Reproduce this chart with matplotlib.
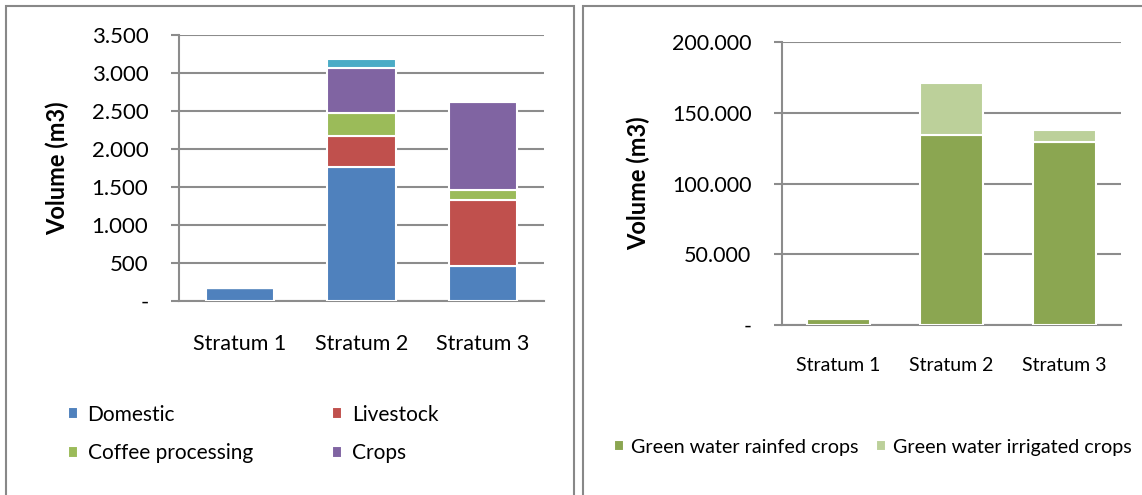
import numpy as np
import matplotlib
matplotlib.use('Agg')
import matplotlib.pyplot as plt
from matplotlib.patches import Rectangle
from matplotlib.ticker import FuncFormatter, MultipleLocator

plt.rcParams['font.family'] = ['Lato', 'DejaVu Sans']

# data
strata = ['Stratum 1', 'Stratum 2', 'Stratum 3']

domestic = [167, 1760, 465]
livestock = [0, 411, 860]
coffee = [0, 299, 132]
crops = [0, 596, 1165]
other = [0, 118, 0]  # cyan segment, not in the legend

rainfed = [4000, 134400, 129300]
irrigated = [1900, 36600, 8500]

left_colors = ['#4F81BD', '#C0504D', '#9BBB59', '#8064A2', '#4BACC6']
right_colors = ['#8BA651', '#BCD09A']
grid_col = '#8C8C8C'

W, H = 1142, 495
fig = plt.figure(figsize=(W / 100, H / 100), dpi=100)


def px_axes(x0, y0, x1, y1):
    # pixel box (top-left origin) -> figure axes
    return fig.add_axes([x0 / W, 1 - y1 / H, (x1 - x0) / W, (y1 - y0) / H])


def thousands(v, pos):
    if v == 0:
        return '-'
    return f'{int(v):,}'.replace(',', '.')


def style(ax, ymax, step, label_x, ysize, xsize, xpad):
    ax.set_ylim(0, ymax)
    ax.set_xlim(-0.5, 2.5)
    ax.yaxis.set_major_locator(MultipleLocator(step))
    ax.yaxis.set_major_formatter(FuncFormatter(thousands))
    ax.grid(axis='y', color=grid_col, lw=1.5, zorder=0)
    ax.set_axisbelow(True)
    for s in ['top', 'right']:
        ax.spines[s].set_visible(False)
    for s in ['left', 'bottom']:
        ax.spines[s].set_color(grid_col)
        ax.spines[s].set_linewidth(1.5)
    ax.tick_params(axis='y', length=6, width=1.5, color=grid_col, pad=16,
                   labelsize=ysize, labelcolor='#000000')
    ax.tick_params(axis='x', length=0, pad=xpad, labelsize=xsize)
    ax.set_ylabel('Volume (m3)', fontsize=17, fontweight='bold')
    ax.yaxis.set_label_coords(label_x, 0.5)


# panel frames
fig.patches.append(Rectangle((6 / W, -0.1), (574 - 6) / W, 1.1 - 6 / H,
                             transform=fig.transFigure, fill=False,
                             edgecolor='#888888', lw=1.5))
fig.patches.append(Rectangle((583 / W, -0.1), 0.5, 1.1 - 6 / H,
                             transform=fig.transFigure, fill=False,
                             edgecolor='#888888', lw=1.5))

# left chart
ax1 = px_axes(179, 35, 544, 301)
x = np.arange(len(strata))
bottom = np.zeros(3)
names = ['Domestic', 'Livestock', 'Coffee processing', 'Crops', None]
handles = {}
for vals, name, col in zip([domestic, livestock, coffee, crops, other], names, left_colors):
    b = ax1.bar(x, vals, 0.56, bottom=bottom, color=col, edgecolor='white',
                lw=1.5, zorder=3, label=name if name else '_nolegend_')
    if name:
        handles[name] = b
    bottom += np.array(vals)
ax1.set_xticks(x, strata)
style(ax1, 3500, 500, -0.30, 16, 15.5, 24)

order = ['Domestic', 'Coffee processing', 'Livestock', 'Crops']
fig.legend([handles[n] for n in order], order, ncol=2, loc='center left',
           bbox_to_anchor=(49 / W, 1 - 434 / H), frameon=False, fontsize=15,
           handlelength=0.5, handleheight=0.5, handletextpad=0.45,
           columnspacing=3.8, labelspacing=0.9)

# right chart
ax2 = px_axes(782, 42, 1121, 325)
x2 = np.arange(len(strata))
b1 = ax2.bar(x2, rainfed, 0.56, color=right_colors[0], edgecolor='white', lw=1.5,
             zorder=3, label='Green water rainfed crops')
b2 = ax2.bar(x2, irrigated, 0.56, bottom=rainfed, color=right_colors[1],
             edgecolor='white', lw=1.5, zorder=3, label='Green water irrigated crops')
ax2.set_xticks(x2, strata)
style(ax2, 200000, 50000, -0.39, 15.5, 14, 23)

fig.legend([b1, b2], ['Green water rainfed crops', 'Green water irrigated crops'],
           ncol=2, loc='center left', bbox_to_anchor=(596 / W, 1 - 447 / H),
           frameon=False, fontsize=14.2, handlelength=0.5, handleheight=0.5,
           handletextpad=0.35, columnspacing=0.9)

fig.savefig('out.png', dpi=100)
